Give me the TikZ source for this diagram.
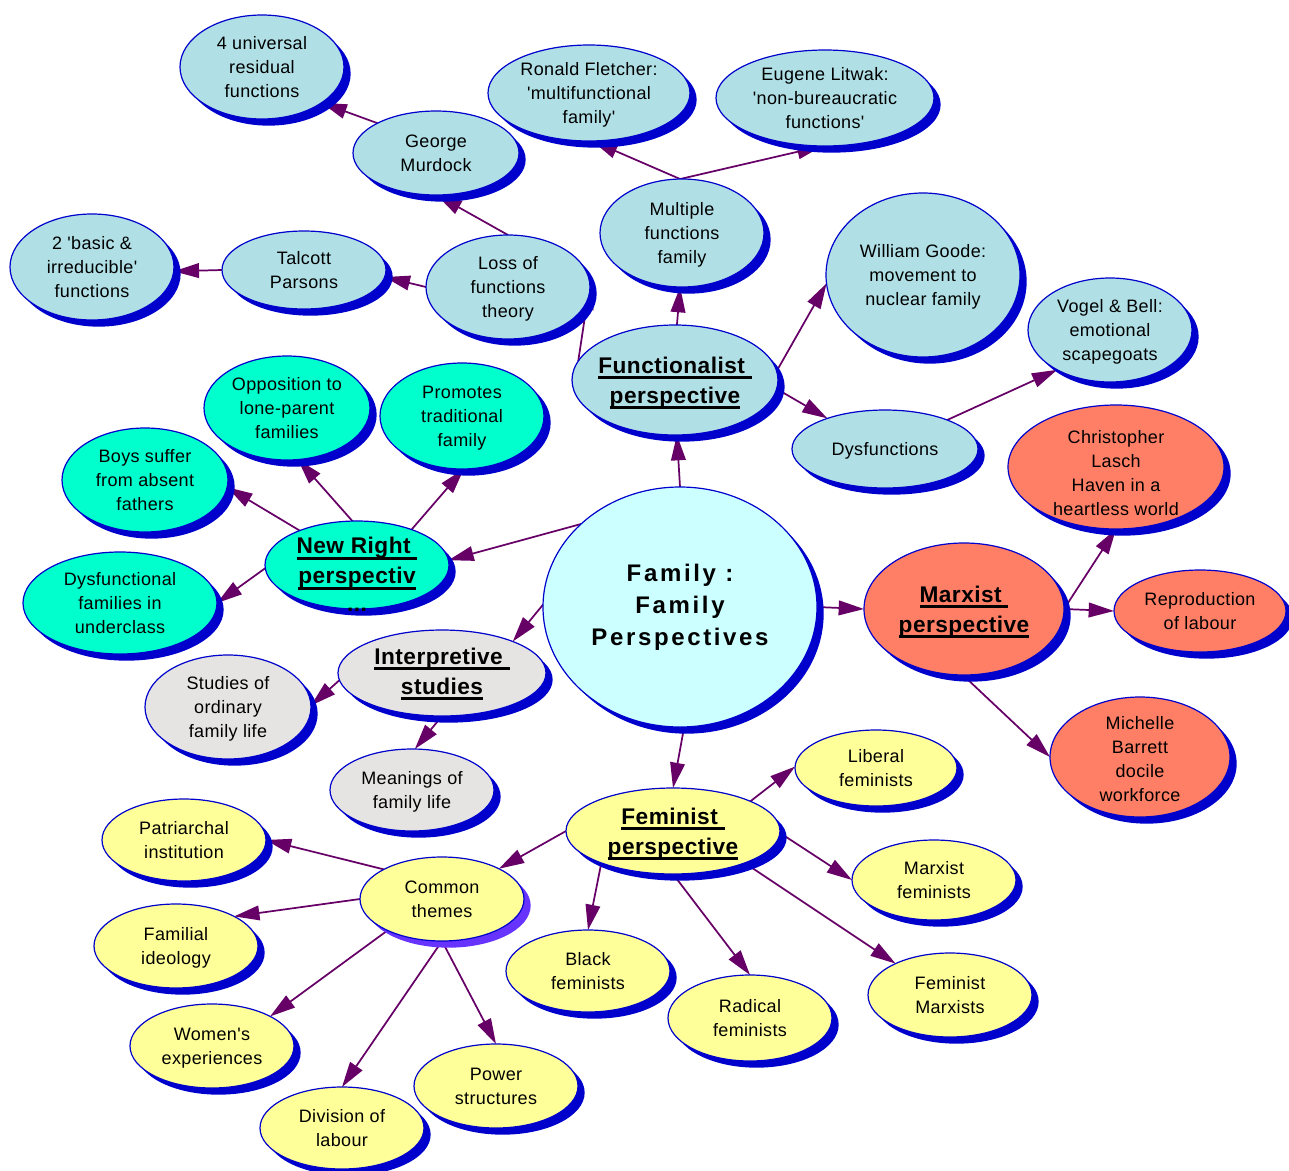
\documentclass[tikz,border=0pt]{standalone}
\usepackage{fontspec}
\setmainfont{Liberation Sans}[Ligatures=TeXOff, LetterSpace=2]
\usetikzlibrary{shapes.geometric, arrows.meta, shadows, backgrounds}
\definecolor{pbc}{HTML}{B0E0E6}
\definecolor{cyc}{HTML}{CCFFFF}
\definecolor{trq}{HTML}{00FFCC}
\definecolor{sal}{HTML}{FF7F66}
\definecolor{gry}{HTML}{E6E3E3}
\definecolor{yel}{HTML}{FFFF99}
\definecolor{olc}{HTML}{0000CC}
\definecolor{vio}{HTML}{6633FF}
\definecolor{arc}{HTML}{660066}
\newsavebox{\ulbox}
\newcommand{\hul}[1]{\sbox{\ulbox}{#1}\rlap{\rule[-4.5pt]{\wd\ulbox}{2.3pt}}\usebox{\ulbox}}
\newcommand{\tx}[2][0pt]{\makebox[0pt]{\raisebox{\dimexpr-4.5pt+#1\relax}[0pt][0pt]{\begin{tabular}{@{}c@{}}#2\end{tabular}}}}
\begin{document}
\begin{tikzpicture}[x=0.75pt,y=-0.75pt,
  base/.style={ellipse, draw=olc, line width=0.9pt, inner sep=0pt, outer sep=0pt,
    font=\fontsize{13.5}{18}\selectfont},
  bub/.style={base, drop shadow={shadow xshift=5pt, shadow yshift=-5pt, fill=olc, opacity=1}},
  bubv/.style={base, drop shadow={shadow xshift=5pt, shadow yshift=-5pt, fill=vio, opacity=1}},
  hd/.style={font=\bfseries\fontsize{17}{22.5}\selectfont},
  sz/.style 2 args={minimum width=#1*1.5pt, minimum height=#2*1.5pt},
  ar/.style={draw=arc, line width=1.3pt, -{Triangle[length=19pt,width=11pt]}}]
\useasboundingbox (0,0) rectangle (1289,1171);
% centre
\node[bub, fill=cyc, sz={137}{120}, font=\bfseries\fontsize{18}{24}\selectfont\addfontfeatures{LetterSpace=11}] (center) at (680,607) {\tx{Family :\\Family\\Perspectives}};
% functionalist
\node[bub, fill=pbc, sz={103}{55}, hd] (func) at (675,380) {\tx[-1.5pt]{\hul{Functionalist\ }\\\hul{perspective}}};
\node[bub, fill=pbc, sz={82}{54}] (multi) at (682,233) {\tx{Multiple\\functions\\family}};
\node[bub, fill=pbc, sz={101}{48}] (fletcher) at (589,93) {\tx{Ronald Fletcher:\\'multifunctional\\family'}};
\node[bub, fill=pbc, sz={109}{48}] (litwak) at (825,98) {\tx{Eugene Litwak:\\'non-bureaucratic\\functions'}};
\node[bub, fill=pbc, sz={97}{82}] (goode) at (923,275) {\tx{William Goode:\\movement to\\nuclear family}};
\node[bub, fill=pbc, sz={82}{52}] (vogel) at (1110,330) {\tx{Vogel \& Bell:\\emotional\\scapegoats}};
\node[bub, fill=pbc, sz={93}{39}] (dysf) at (885,449) {\tx{Dysfunctions}};
\node[bub, fill=pbc, sz={82}{52}] (loss) at (508,287) {\tx{Loss of\\functions\\theory}};
\node[bub, fill=pbc, sz={83}{42}] (murdock) at (436,153) {\tx{George\\Murdock}};
\node[bub, fill=pbc, sz={82}{52}] (univ) at (262,67) {\tx{4 universal\\residual\\functions}};
\node[bub, fill=pbc, sz={82}{39}] (talcott) at (304,270) {\tx{Talcott\\Parsons}};
\node[bub, fill=pbc, sz={82}{53}] (basic) at (92,267) {\tx{2 'basic \&\\irreducible'\\functions}};
% new right
\node[bub, fill=trq, sz={92}{44}, hd] (nr) at (357,565) {\tx[-8.5pt]{\hul{New Right\ }\\\hul{perspectiv}\\[-2pt]...}};
\node[bub, fill=trq, sz={83}{52}] (opp) at (287,408) {\tx{Opposition to\\lone-parent\\families}};
\node[bub, fill=trq, sz={82}{53}] (prom) at (462,416) {\tx{Promotes\\traditional\\family}};
\node[bub, fill=trq, sz={83}{52}] (boys) at (145,480) {\tx{Boys suffer\\from absent\\fathers}};
\node[bub, fill=trq, sz={97}{51}] (dfu) at (120,603) {\tx{Dysfunctional\\families in\\underclass}};
% marxist
\node[bub, fill=sal, sz={100}{66}, hd] (marx) at (964,609) {\tx[-1.5pt]{\hul{Marxist\ }\\\hul{perspective}}};
\node[bub, fill=sal, sz={108}{62}] (lasch) at (1116,467) {\tx[-4.5pt]{Christopher\\Lasch\\Haven in a\\heartless world}};
\node[bub, fill=sal, sz={86}{41}] (repro) at (1200,611) {\tx{Reproduction\\of labour}};
\node[bub, fill=sal, sz={90}{60}] (mich) at (1140,757) {\tx[-1.5pt]{Michelle\\Barrett\\docile\\workforce}};
% interpretive
\node[bub, fill=gry, sz={104}{43}, hd] (interp) at (442,673) {\tx{\hul{Interpretive\ }\\\hul{studies}}};
\node[bub, fill=gry, sz={83}{52}] (studies) at (228,707) {\tx{Studies of\\ordinary\\family life}};
\node[bub, fill=gry, sz={82}{41}] (mean) at (412,790) {\tx{Meanings of\\family life}};
% feminist
\node[bub, fill=yel, sz={107}{43}, hd] (fem) at (673,831) {\tx[-1.5pt]{\hul{Feminist\ }\\\hul{perspective}}};
\node[bub, fill=yel, sz={81}{38}] (lib) at (876,768) {\tx{Liberal\\feminists}};
\node[bub, fill=yel, sz={82}{40}] (mf) at (934,880) {\tx{Marxist\\feminists}};
\node[bub, fill=yel, sz={82}{42}] (fm) at (950,995) {\tx{Feminist\\Marxists}};
\node[bub, fill=yel, sz={82}{43}] (rad) at (750,1018) {\tx{Radical\\feminists}};
\node[bub, fill=yel, sz={82}{41}] (black) at (588,971) {\tx{Black\\feminists}};
\node[bubv, fill=yel, sz={82}{42}] (common) at (442,899) {\tx{Common\\themes}};
\node[bub, fill=yel, sz={82}{41}] (patr) at (184,840) {\tx{Patriarchal\\institution}};
\node[bub, fill=yel, sz={82}{42}] (famid) at (176,946) {\tx{Familial\\ideology}};
\node[bub, fill=yel, sz={82}{42}] (women) at (212,1046) {\tx{Women's\\experiences}};
\node[bub, fill=yel, sz={82}{41}] (div) at (342,1128) {\tx{Division of\\labour}};
\node[bub, fill=yel, sz={82}{42}] (power) at (496,1086) {\tx{Power\\structures}};
\begin{pgfonlayer}{background}
\draw[ar] (center.90) -- (func.-88);
\draw[ar] (func.88) -- (multi.-92);
\draw[ar] (multi.92) -- (fletcher.-86);
\draw[ar] (multi.92) -- (litwak.-93);
\draw[ar] (func.5) -- (goode.185);
\draw[ar] (func.-5) -- (dysf.152);
\draw[ar] (dysf.25) -- (vogel.217);
\draw[ar] (func.169) -- (loss.2);
\draw[ar] (loss.90) -- (murdock.-89);
\draw[ar] (murdock.153) -- (univ.-31);
\draw[ar] (loss.180) -- (talcott.-5);
\draw[ar] (talcott.180) -- (basic.-3);
\draw[ar] (center.140) -- (nr.3);
\draw[ar] (nr.96) -- (opp.-78);
\draw[ar] (nr.33) -- (prom.-88);
\draw[ar] (nr.149) -- (boys.-5);
\draw[ar] (nr.182) -- (dfu.0);
\draw[ar] (center.0) -- (marx.180);
\draw[ar] (marx.0) -- (lasch.-90);
\draw[ar] (marx.0) -- (repro.180);
\draw[ar] (marx.-91) -- (mich.180);
\draw[ar] (center.179) -- (interp.24);
\draw[ar] (interp.184) -- (studies.1);
\draw[ar] (interp.-90) -- (mean.86);
\draw[ar] (center.-88) -- (fem.90);
\draw[ar] (fem.21) -- (lib.179);
\draw[ar] (fem.-1) -- (mf.180);
\draw[ar] (fem.-24) -- (fm.150);
\draw[ar] (fem.-90) -- (rad.90);
\draw[ar] (fem.204) -- (black.90);
\draw[ar] (fem.180) -- (common.28);
\draw[ar] (common.153) -- (patr.0);
\draw[ar] (common.180) -- (famid.27);
\draw[ar] (common.210) -- (women.27);
\draw[ar] (common.-90) -- (div.90);
\draw[ar] (common.-90) -- (power.90);
\end{pgfonlayer}
\end{tikzpicture}
\end{document}
